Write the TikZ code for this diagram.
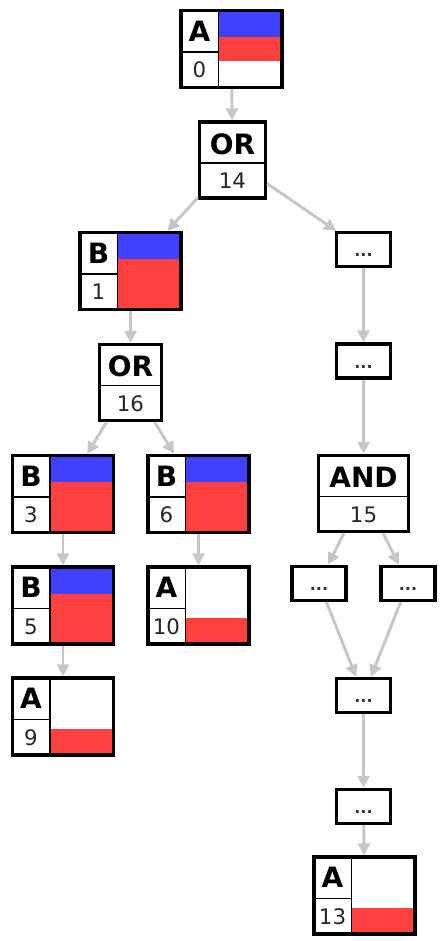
\documentclass[tikz,border=0pt]{standalone}
\usepackage{fontspec}
\setmainfont{DejaVu Sans}
\usetikzlibrary{arrows.meta}
\definecolor{hiblue}{RGB}{64,64,255}
\definecolor{hired}{RGB}{255,64,64}
\definecolor{edgegray}{RGB}{198,198,198}

% record: name, position, letter, number, blue end, red start, red end
\newcommand{\recnode}[7]{%
  \begin{scope}[shift={#2}]
    \fill[hiblue] (-13,-38.5) rectangle (50.5,#5);
    \fill[hired] (-13,#6) rectangle (50.5,#7);
    \draw[cellline] (-13,-38.5) -- (-13,38.5);
    \draw[cellline] (-50.5,3) -- (-13,3);
    \node[letter] at (-32,-18) {#3};
    \node[number] at (-32,21) {#4};
    \node[recbox] (#1) at (0,0) {};
  \end{scope}}

% operator: name, position, label, number, half width
\newcommand{\opnode}[5]{%
  \begin{scope}[shift={#2}]
    \draw[cellline] (-#5,3) -- (#5,3);
    \node[letter] at (0,-16) {#3};
    \node[number] at (0,21) {#4};
    \node[opbox, minimum width={#5*1.5pt}] (#1) at (0,0) {};
  \end{scope}}

\begin{document}
\begin{tikzpicture}[x=0.75pt, y=-0.75pt,
    recbox/.style={draw, line width=2.5pt, minimum width=75.75pt, minimum height=57.75pt, inner sep=0pt},
    opbox/.style={draw, line width=2.5pt, minimum height=57pt, inner sep=0pt},
    dotbox/.style={draw, line width=2.5pt, minimum width=40.5pt, minimum height=25.5pt, inner sep=0pt,
      text height=11pt, text depth=0pt, font=\fontsize{12}{14}\selectfont\bfseries, text=black!80},
    cellline/.style={line width=0.8pt},
    letter/.style={inner sep=0pt, font=\fontsize{21}{24}\selectfont\bfseries},
    number/.style={inner sep=0pt, font=\fontsize{16}{18}\selectfont, text=black!85},
    edge/.style={draw=edgegray, line width=2.2pt, -{Triangle[length=9pt, width=9pt]}}]
  \useasboundingbox (0,0) rectangle (441,941);

  % left branch
  \recnode{a0}{(231.5,49)}{A}{0}{-12}{-12}{12}
  \opnode{or14}{(232.5,160)}{OR}{14}{33}
  \recnode{b1}{(130.5,271)}{B}{1}{-12}{-12}{38.5}
  \opnode{or16}{(130.5,382.5)}{OR}{16}{31}
  \recnode{b3}{(63,494)}{B}{3}{-12}{-12}{38.5}
  \recnode{b6}{(198.5,494)}{B}{6}{-12}{-12}{38.5}
  \recnode{b5}{(63,605.5)}{B}{5}{-12}{-12}{38.5}
  \recnode{a10}{(198.5,605.5)}{A}{10}{-38.5}{12}{38.5}
  \recnode{a9}{(63,716.5)}{A}{9}{-38.5}{12}{38.5}

  % right branch
  \node[dotbox] (dots1) at (363.5,249.5) {...};
  \node[dotbox] (dots2) at (363.5,361) {...};
  \opnode{and15}{(363.5,493.5)}{AND}{15}{45}
  \node[dotbox] (dotsl) at (319,583.5) {...};
  \node[dotbox] (dotsr) at (408,583.5) {...};
  \node[dotbox] (dotsmid) at (363.5,695.5) {...};
  \node[dotbox] (dotsbot) at (363.5,806.5) {...};
  \recnode{a13}{(364.5,895.5)}{A}{13}{-38.5}{12}{38.5}

  \foreach \from/\to in {a0/or14, or14/b1, or14/dots1, b1/or16, or16/b3, or16/b6,
      b3/b5, b5/a9, b6/a10, dots1/dots2, dots2/and15, and15/dotsl, and15/dotsr,
      dotsl/dotsmid, dotsr/dotsmid, dotsmid/dotsbot, dotsbot/a13}
    \draw[edge] (\from) -- (\to);
\end{tikzpicture}
\end{document}
